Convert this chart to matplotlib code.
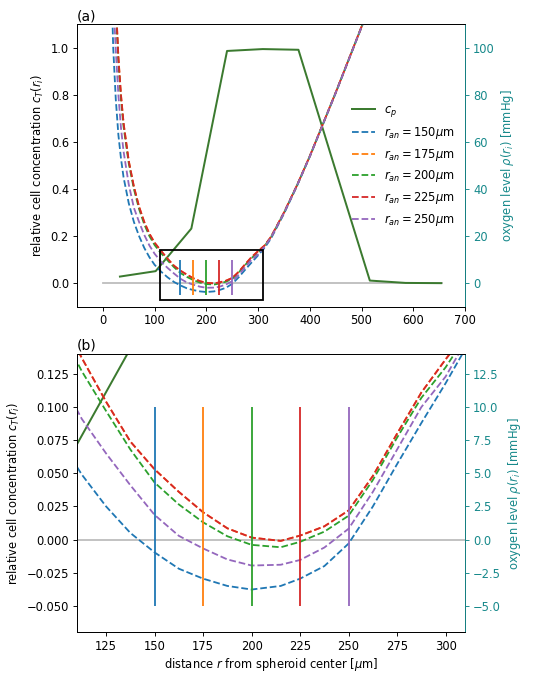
import matplotlib
matplotlib.use("Agg")
import matplotlib.pyplot as plt
from matplotlib.patches import Rectangle

# ---------------- data ----------------
r_an_values = [150, 175, 200, 225, 250]
r_an_colors = ["C0", "C1", "C2", "C3", "C4"]

# proliferating cell concentration c_p
r_cp = [33, 102, 171, 240, 309, 378, 447, 516, 585, 654]
c_p = [0.028, 0.051, 0.232, 0.987, 0.995, 0.992, 0.50, 0.011, 0.001, 0.0]

# zero reference line
r_zero = [0, 656]
zero_vals = [0, 0]

# radial grid for dashed curves
r_grid = [15, 20, 25, 30, 35, 40, 50, 60, 70, 80, 90, 100, 112.5, 125, 137.5,
          150, 162.5, 175, 187.5, 200, 215, 225, 237.5, 250, 262.5, 275, 287.5,
          300, 312.5, 325, 350, 375, 400, 425, 450, 475, 500, 525]

c_150 = [1.40, 1.00, 0.78, 0.63, 0.53, 0.45, 0.34, 0.26, 0.20, 0.15, 0.11, 0.078,
         0.049, 0.025, 0.005, -0.0097, -0.022, -0.0295, -0.035, -0.0377, -0.035,
         -0.0295, -0.020, -0.003, 0.025, 0.057, 0.088, 0.118, 0.150, 0.190, 0.295,
         0.412, 0.538, 0.673, 0.808, 0.948, 1.088, 1.23]

c_225 = [1.90, 1.45, 1.20, 0.96, 0.80, 0.68, 0.52, 0.41, 0.325, 0.26, 0.21, 0.172,
         0.137, 0.104, 0.074, 0.053, 0.036, 0.0206, 0.0085, 0.0015, -0.001,
         0.003, 0.010, 0.022, 0.048, 0.080, 0.111, 0.136, 0.160, 0.197, 0.300,
         0.415, 0.540, 0.675, 0.810, 0.950, 1.09, 1.23]

c_175 = [1.90, 1.45, 1.20, 0.96, 0.80, 0.68, 0.52, 0.41, 0.325, 0.26, 0.21, 0.172,
         0.137, 0.104, 0.074, 0.053, 0.036, 0.0206, 0.0085, 0.0015, -0.001,
         0.003, 0.010, 0.022, 0.048, 0.080, 0.111, 0.136, 0.160, 0.197, 0.300,
         0.415, 0.540, 0.675, 0.810, 0.950, 1.09, 1.23]

c_200 = [1.85, 1.42, 1.18, 0.94, 0.78, 0.665, 0.51, 0.40, 0.315, 0.25, 0.20, 0.162,
         0.127, 0.097, 0.068, 0.043, 0.0265, 0.013, 0.0025, -0.004, -0.0058,
         -0.0017, 0.006, 0.018, 0.045, 0.077, 0.107, 0.130, 0.158, 0.196, 0.299,
         0.415, 0.540, 0.675, 0.810, 0.950, 1.09, 1.23]

c_250 = [1.60, 1.22, 0.99, 0.80, 0.66, 0.56, 0.42, 0.32, 0.26, 0.205, 0.16, 0.125,
         0.091, 0.065, 0.041, 0.0186, 0.0028, -0.0067, -0.015, -0.0196, -0.019,
         -0.0154, -0.006, 0.0082, 0.036, 0.068, 0.100, 0.123, 0.155, 0.194, 0.298,
         0.414, 0.539, 0.674, 0.809, 0.949, 1.089, 1.23]

curves = [c_150, c_175, c_200, c_225, c_250]

# vertical marker extent
vline_low, vline_high = -0.05, 0.1

# zoom box
box_x = (110, 310)
box_y = (-0.07, 0.14)

teal = "#17898b"
cp_color = "#3b7a2f"

s = 0.83   # text scale of the original figure
lw = 1.3   # line width of the curves
plt.rcParams.update({
    "font.size": 10 * s,
    "lines.linewidth": lw,
    "axes.linewidth": 0.8 * s,
    "xtick.major.size": 3.5 * s,
    "ytick.major.size": 3.5 * s,
    "xtick.major.width": 0.8 * s,
    "ytick.major.width": 0.8 * s,
    "xtick.major.pad": 3.0 * s,
    "ytick.major.pad": 3.5 * s,
    "axes.labelpad": 4 * s,
})


def draw(ax, legend=False):
    ax.plot(r_zero, zero_vals, color="#bdbdbd", lw=lw, zorder=1)
    ax.plot(r_cp, c_p, color=cp_color, lw=lw * 1.1, label=r"$c_p$", zorder=2)
    for ran, vals, col in zip(r_an_values, curves, r_an_colors):
        ax.plot(r_grid, vals, "--", color=col, lw=lw,
                label=r"$r_{an} = %d\mu$m" % ran, zorder=3)
    for ran, col in zip(r_an_values, r_an_colors):
        ax.vlines(ran, vline_low, vline_high, color=col, lw=lw, zorder=4)
    ax.set_ylabel(r"relative cell concentration $c_T(r_i)$")
    if legend:
        ax.legend(loc="center right", frameon=False)


fig = plt.figure(figsize=(5.5, 6.77), dpi=100)
ax1 = fig.add_axes([0.14, 0.547, 0.7055, 0.417])
ax2 = fig.add_axes([0.14, 0.066, 0.7055, 0.411])

draw(ax1, legend=True)
ax1.add_patch(Rectangle((box_x[0], box_y[0]), box_x[1] - box_x[0],
                        box_y[1] - box_y[0], fill=False, ec="black", lw=lw,
                        zorder=5))
ax1.set_xlim(-50, 700)
ax1.set_ylim(-0.1, 1.1)
ax1.set_xticks([0, 100, 200, 300, 400, 500, 600, 700])
ax1.set_yticks([0.0, 0.2, 0.4, 0.6, 0.8, 1.0])
ax1.set_title("(a)", loc="left", pad=3)

draw(ax2)
ax2.set_xlim(110, 310)
ax2.set_ylim(-0.07, 0.14)
ax2.set_xticks([125, 150, 175, 200, 225, 250, 275, 300])
ax2.set_yticks([-0.05, -0.025, 0.0, 0.025, 0.05, 0.075, 0.1, 0.125])
ax2.set_xlabel(r"distance $r$ from spheroid center [$\mu$m]", labelpad=2)
ax2.set_title("(b)", loc="left", pad=3)

for ax, ticks in [(ax1, [0, 20, 40, 60, 80, 100]),
                  (ax2, [-5.0, -2.5, 0.0, 2.5, 5.0, 7.5, 10.0, 12.5])]:
    tw = ax.twinx()
    lo, hi = ax.get_ylim()
    tw.set_ylim(lo * 100, hi * 100)
    tw.set_yticks(ticks)
    tw.set_ylabel(r"oxygen level $\rho(r_i)$ [mmHg]", color=teal)
    tw.tick_params(axis="y", colors=teal)
    tw.spines["right"].set_color(teal)

fig.savefig("out.png", dpi=100)
